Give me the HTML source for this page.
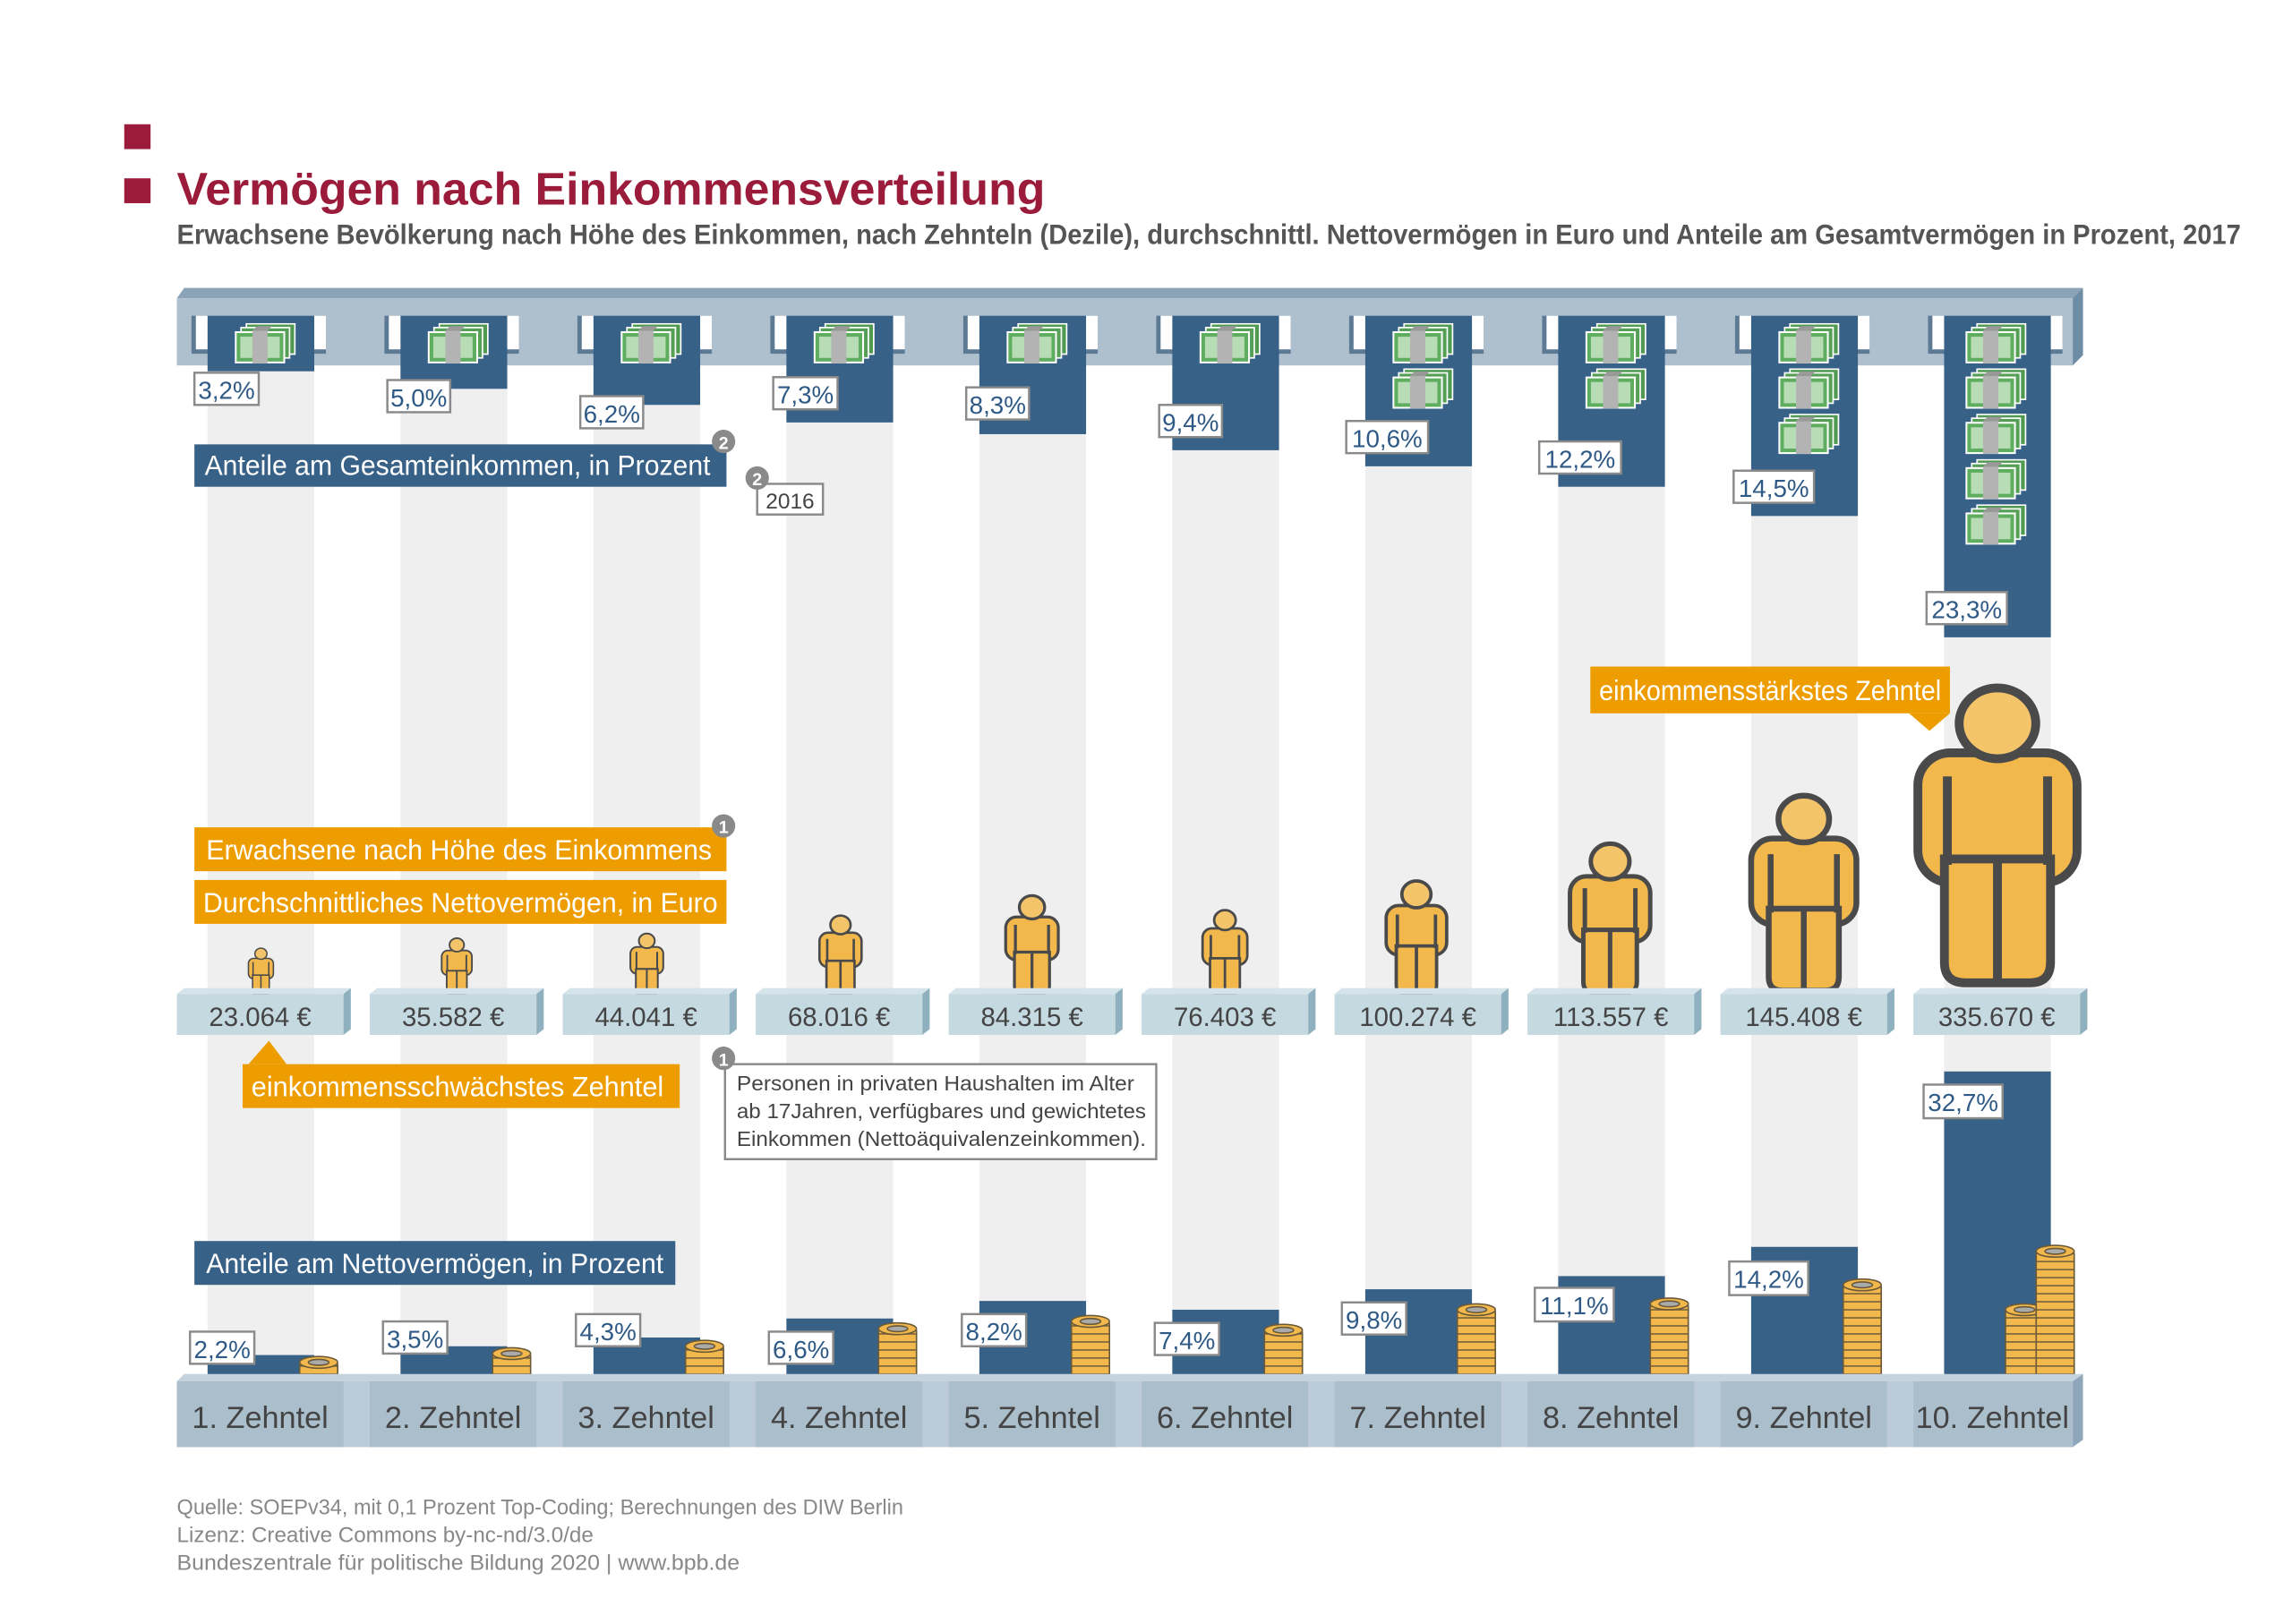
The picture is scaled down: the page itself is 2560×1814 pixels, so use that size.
<!DOCTYPE html>
<html><head><meta charset="utf-8"><style>
html,body{margin:0;padding:0;background:#fff;}
svg{display:block;}
text{font-family:"Liberation Sans",sans-serif;}
</style></head><body>
<svg width="2560" height="1814" viewBox="0 0 1568 1111" preserveAspectRatio="none" xmlns="http://www.w3.org/2000/svg">
<defs>
<symbol id="money" viewBox="0 0 41 27">
<rect x="8" y="0.5" width="32" height="20" fill="#4f9a50" stroke="#fff" stroke-width="1"/>
<rect x="4.5" y="3" width="32" height="20" fill="#55a056" stroke="#fff" stroke-width="1"/>
<rect x="1" y="6" width="32" height="20" fill="#5fae60" stroke="#fff" stroke-width="1.2"/>
<rect x="4" y="9" width="26" height="14" fill="#b8dcb5"/>
<rect x="12" y="5" width="10" height="21.5" fill="#b3b3b3"/>
<polygon points="12,5 15,2 25,2 22,5" fill="#999"/>
</symbol>
<pattern id="coins" patternUnits="userSpaceOnUse" width="30" height="5.5">
<rect width="30" height="5.5" fill="#f2b84b"/>
<rect y="4.6" width="30" height="0.9" fill="#6b5a3a"/>
</pattern>
<symbol id="person" viewBox="-3 -3 60 106" overflow="visible">
<rect x="0" y="22" width="54" height="44" rx="11" fill="#f2b84b" stroke="#4a4a4a" stroke-width="3"/>
<path d="M9,58 L9,93 Q9,100 16,100 L38,100 Q45,100 45,93 L45,58 Z" fill="#f2b84b" stroke="#4a4a4a" stroke-width="3"/>
<line x1="10" y1="30" x2="10" y2="60" stroke="#4a4a4a" stroke-width="3"/>
<line x1="44" y1="30" x2="44" y2="60" stroke="#4a4a4a" stroke-width="3"/>
<line x1="10" y1="58" x2="44" y2="58" stroke="#4a4a4a" stroke-width="2.5"/>
<line x1="27" y1="58" x2="27" y2="100" stroke="#4a4a4a" stroke-width="3"/>
<ellipse cx="27" cy="12" rx="13" ry="12" fill="#f4c46a" stroke="#4a4a4a" stroke-width="3"/>
</symbol>
</defs>

<rect x="85" y="85" width="18" height="17" fill="#9b1b3a"/>
<rect x="85" y="122" width="18" height="17" fill="#9b1b3a"/>
<text x="121" y="140" font-size="31" font-weight="bold" fill="#9b1b3a" textLength="594" lengthAdjust="spacingAndGlyphs">Vermögen nach Einkommensverteilung</text>
<text x="121" y="167" font-size="19" font-weight="bold" fill="#555" textLength="1412" lengthAdjust="spacingAndGlyphs">Erwachsene Bevölkerung nach Höhe des Einkommen, nach Zehnteln (Dezile), durchschnittl. Nettovermögen in Euro und Anteile am Gesamtvermögen in Prozent, 2017</text>

<g fill="#efefef">
<rect x="142" y="245" width="73" height="700"/><rect x="274" y="245" width="73" height="700"/><rect x="406" y="245" width="73" height="700"/><rect x="538" y="245" width="73" height="700"/><rect x="670" y="245" width="73" height="700"/><rect x="802" y="245" width="73" height="700"/><rect x="934" y="245" width="73" height="700"/><rect x="1066" y="245" width="73" height="700"/><rect x="1198" y="245" width="73" height="700"/><rect x="1330" y="245" width="73" height="700"/>
</g>

<polygon points="121,204 126,197 1425,197 1418,204" fill="#8aa3b8"/>
<rect x="121" y="204" width="1297" height="46" fill="#aebfcd"/>
<polygon points="1418,204 1425,197 1425,243 1418,250" fill="#6f8ca5"/>
<g>
<rect x="131" y="216" width="92" height="26" fill="#5d7a95"/><rect x="134" y="216" width="89" height="23" fill="#fff"/>
<rect x="263" y="216" width="92" height="26" fill="#5d7a95"/><rect x="266" y="216" width="89" height="23" fill="#fff"/>
<rect x="395" y="216" width="92" height="26" fill="#5d7a95"/><rect x="398" y="216" width="89" height="23" fill="#fff"/>
<rect x="527" y="216" width="92" height="26" fill="#5d7a95"/><rect x="530" y="216" width="89" height="23" fill="#fff"/>
<rect x="659" y="216" width="92" height="26" fill="#5d7a95"/><rect x="662" y="216" width="89" height="23" fill="#fff"/>
<rect x="791" y="216" width="92" height="26" fill="#5d7a95"/><rect x="794" y="216" width="89" height="23" fill="#fff"/>
<rect x="923" y="216" width="92" height="26" fill="#5d7a95"/><rect x="926" y="216" width="89" height="23" fill="#fff"/>
<rect x="1055" y="216" width="92" height="26" fill="#5d7a95"/><rect x="1058" y="216" width="89" height="23" fill="#fff"/>
<rect x="1187" y="216" width="92" height="26" fill="#5d7a95"/><rect x="1190" y="216" width="89" height="23" fill="#fff"/>
<rect x="1319" y="216" width="92" height="26" fill="#5d7a95"/><rect x="1322" y="216" width="89" height="23" fill="#fff"/>
</g>

<g fill="#376187">
<rect x="142" y="216" width="73" height="38"/>
<rect x="274" y="216" width="73" height="50"/>
<rect x="406" y="216" width="73" height="61"/>
<rect x="538" y="216" width="73" height="73"/>
<rect x="670" y="216" width="73" height="81"/>
<rect x="802" y="216" width="73" height="92"/>
<rect x="934" y="216" width="73" height="103"/>
<rect x="1066" y="216" width="73" height="117"/>
<rect x="1198" y="216" width="73" height="137"/>
<rect x="1330" y="216" width="73" height="220"/>
</g>
<use href="#money" x="160" y="221" width="43" height="28"/>
<use href="#money" x="292" y="221" width="43" height="28"/>
<use href="#money" x="424" y="221" width="43" height="28"/>
<use href="#money" x="556" y="221" width="43" height="28"/>
<use href="#money" x="688" y="221" width="43" height="28"/>
<use href="#money" x="820" y="221" width="43" height="28"/>
<use href="#money" x="952" y="221" width="43" height="28"/>
<use href="#money" x="952" y="252" width="43" height="28"/>
<use href="#money" x="1084" y="221" width="43" height="28"/>
<use href="#money" x="1084" y="252" width="43" height="28"/>
<use href="#money" x="1216" y="221" width="43" height="28"/>
<use href="#money" x="1216" y="252" width="43" height="28"/>
<use href="#money" x="1216" y="283" width="43" height="28"/>
<use href="#money" x="1344" y="221" width="43" height="28"/>
<use href="#money" x="1344" y="252" width="43" height="28"/>
<use href="#money" x="1344" y="283" width="43" height="28"/>
<use href="#money" x="1344" y="314" width="43" height="28"/>
<use href="#money" x="1344" y="345" width="43" height="28"/>

<g fill="#fff" stroke="#8a8a8a" stroke-width="1.5">
<rect x="133" y="255" width="44" height="22"/>
<rect x="265" y="260" width="43" height="22"/>
<rect x="397" y="271" width="43" height="22"/>
<rect x="529" y="258" width="44" height="22"/>
<rect x="661" y="265" width="43" height="22"/>
<rect x="793" y="277" width="43" height="22"/>
<rect x="921" y="288" width="56" height="22"/>
<rect x="1053" y="302" width="56" height="22"/>
<rect x="1186" y="322" width="55" height="22"/>
<rect x="1318" y="405" width="55" height="22"/>
</g>
<g font-size="17" fill="#2f5a86" text-anchor="middle">
<text x="155" y="273">3,2%</text>
<text x="286.5" y="278">5,0%</text>
<text x="418.5" y="289">6,2%</text>
<text x="551" y="276">7,3%</text>
<text x="682.5" y="283">8,3%</text>
<text x="814.5" y="295">9,4%</text>
<text x="949" y="306">10,6%</text>
<text x="1081" y="320">12,2%</text>
<text x="1213.5" y="340">14,5%</text>
<text x="1345.5" y="423">23,3%</text>
</g>

<rect x="133" y="304" width="364" height="29" fill="#376187"/>
<text x="140" y="325" font-size="19" fill="#fff" textLength="346" lengthAdjust="spacingAndGlyphs">Anteile am Gesamteinkommen, in Prozent</text>
<circle cx="495" cy="302" r="8" fill="#8a8a8a"/><text x="495" y="307" font-size="12" font-weight="bold" fill="#fff" text-anchor="middle">2</text>
<rect x="518" y="331" width="45" height="21" fill="#fff" stroke="#8a8a8a" stroke-width="1.5"/>
<text x="540.5" y="348" font-size="15" fill="#444" text-anchor="middle">2016</text>
<circle cx="518" cy="327" r="8" fill="#8a8a8a"/><text x="518" y="332" font-size="12" font-weight="bold" fill="#fff" text-anchor="middle">2</text>

<rect x="1088" y="456" width="246" height="32" fill="#ee9d00"/>
<polygon points="1306,488 1334,488 1320,500" fill="#ee9d00"/>
<text x="1094" y="479" font-size="19" fill="#fff" textLength="234" lengthAdjust="spacingAndGlyphs">einkommensstärkstes Zehntel</text>

<rect x="133" y="566" width="364" height="30" fill="#ee9d00"/>
<text x="141" y="588" font-size="19" fill="#fff" textLength="346" lengthAdjust="spacingAndGlyphs">Erwachsene nach Höhe des Einkommens</text>
<circle cx="495" cy="565" r="8" fill="#8a8a8a"/><text x="495" y="570" font-size="12" font-weight="bold" fill="#fff" text-anchor="middle">1</text>
<rect x="133" y="602" width="364" height="30" fill="#ee9d00"/>
<text x="139" y="624" font-size="19" fill="#fff" textLength="352" lengthAdjust="spacingAndGlyphs">Durchschnittliches Nettovermögen, in Euro</text>

<use href="#person" x="169" y="647" width="19" height="35"/>
<use href="#person" x="301" y="640" width="23" height="42"/>
<use href="#person" x="430" y="637" width="25" height="45"/>
<use href="#person" x="559" y="624" width="32" height="58"/>
<use href="#person" x="686" y="610" width="40" height="72"/>
<use href="#person" x="821" y="620" width="34" height="62"/>
<use href="#person" x="946" y="600" width="46" height="82"/>
<use href="#person" x="1071" y="574" width="61" height="108"/>
<use href="#person" x="1194" y="540" width="80" height="142"/>
<use href="#person" x="1306" y="461" width="121" height="221"/>

<g>
<polygon points="121,680 126,676 240,676 235,680" fill="#d5e4ea"/><rect x="121" y="680" width="114" height="28" fill="#c5d9e1"/><polygon points="235,680 240,676 240,704 235,708" fill="#8fb0bf"/>
<polygon points="253,680 258,676 372,676 367,680" fill="#d5e4ea"/><rect x="253" y="680" width="114" height="28" fill="#c5d9e1"/><polygon points="367,680 372,676 372,704 367,708" fill="#8fb0bf"/>
<polygon points="385,680 390,676 504,676 499,680" fill="#d5e4ea"/><rect x="385" y="680" width="114" height="28" fill="#c5d9e1"/><polygon points="499,680 504,676 504,704 499,708" fill="#8fb0bf"/>
<polygon points="517,680 522,676 636,676 631,680" fill="#d5e4ea"/><rect x="517" y="680" width="114" height="28" fill="#c5d9e1"/><polygon points="631,680 636,676 636,704 631,708" fill="#8fb0bf"/>
<polygon points="649,680 654,676 768,676 763,680" fill="#d5e4ea"/><rect x="649" y="680" width="114" height="28" fill="#c5d9e1"/><polygon points="763,680 768,676 768,704 763,708" fill="#8fb0bf"/>
<polygon points="781,680 786,676 900,676 895,680" fill="#d5e4ea"/><rect x="781" y="680" width="114" height="28" fill="#c5d9e1"/><polygon points="895,680 900,676 900,704 895,708" fill="#8fb0bf"/>
<polygon points="913,680 918,676 1032,676 1027,680" fill="#d5e4ea"/><rect x="913" y="680" width="114" height="28" fill="#c5d9e1"/><polygon points="1027,680 1032,676 1032,704 1027,708" fill="#8fb0bf"/>
<polygon points="1045,680 1050,676 1164,676 1159,680" fill="#d5e4ea"/><rect x="1045" y="680" width="114" height="28" fill="#c5d9e1"/><polygon points="1159,680 1164,676 1164,704 1159,708" fill="#8fb0bf"/>
<polygon points="1177,680 1182,676 1296,676 1291,680" fill="#d5e4ea"/><rect x="1177" y="680" width="114" height="28" fill="#c5d9e1"/><polygon points="1291,680 1296,676 1296,704 1291,708" fill="#8fb0bf"/>
<polygon points="1309,680 1314,676 1428,676 1423,680" fill="#d5e4ea"/><rect x="1309" y="680" width="114" height="28" fill="#c5d9e1"/><polygon points="1423,680 1428,676 1428,704 1423,708" fill="#8fb0bf"/>
</g>
<g font-size="18" fill="#444" text-anchor="middle">
<text x="178" y="702">23.064 €</text><text x="310" y="702">35.582 €</text><text x="442" y="702">44.041 €</text><text x="574" y="702">68.016 €</text><text x="706" y="702">84.315 €</text><text x="838" y="702">76.403 €</text><text x="970" y="702">100.274 €</text><text x="1102" y="702">113.557 €</text><text x="1234" y="702">145.408 €</text><text x="1366" y="702">335.670 €</text>
</g>

<rect x="166" y="728" width="299" height="30" fill="#ee9d00"/>
<polygon points="170,728 184,712 196,728" fill="#ee9d00"/>
<text x="172" y="750" font-size="19" fill="#fff" textLength="282" lengthAdjust="spacingAndGlyphs">einkommensschwächstes Zehntel</text>

<rect x="496" y="728" width="295" height="65" fill="#fff" stroke="#8a8a8a" stroke-width="1.5"/>
<g font-size="14" fill="#444">
<text x="504" y="746" textLength="272" lengthAdjust="spacingAndGlyphs">Personen in privaten Haushalten im Alter</text>
<text x="504" y="765" textLength="280" lengthAdjust="spacingAndGlyphs">ab 17Jahren, verfügbares und gewichtetes</text>
<text x="504" y="784" textLength="280" lengthAdjust="spacingAndGlyphs">Einkommen (Nettoäquivalenzeinkommen).</text>
</g>
<circle cx="495" cy="724" r="8" fill="#8a8a8a"/><text x="495" y="729" font-size="12" font-weight="bold" fill="#fff" text-anchor="middle">1</text>

<rect x="133" y="849" width="329" height="30" fill="#376187"/>
<text x="141" y="871" font-size="19" fill="#fff" textLength="313" lengthAdjust="spacingAndGlyphs">Anteile am Nettovermögen, in Prozent</text>

<g fill="#376187">
<rect x="142" y="927" width="73" height="18"/>
<rect x="274" y="921" width="73" height="24"/>
<rect x="406" y="915" width="73" height="30"/>
<rect x="538" y="902" width="73" height="43"/>
<rect x="670" y="890" width="73" height="55"/>
<rect x="802" y="896" width="73" height="49"/>
<rect x="934" y="882" width="73" height="63"/>
<rect x="1066" y="873" width="73" height="72"/>
<rect x="1198" y="853" width="73" height="92"/>
<rect x="1330" y="733" width="73" height="212"/>
</g>
<g stroke="#6b5a3a" stroke-width="1">
<rect x="205" y="931" width="26" height="12" rx="3" fill="url(#coins)"/><ellipse cx="218" cy="932" rx="13" ry="4" fill="#f2b84b"/><ellipse cx="218" cy="932" rx="7" ry="2" fill="#aaa"/>
<rect x="337" y="925" width="26" height="18" rx="3" fill="url(#coins)"/><ellipse cx="350" cy="926" rx="13" ry="4" fill="#f2b84b"/><ellipse cx="350" cy="926" rx="7" ry="2" fill="#aaa"/>
<rect x="469" y="920" width="26" height="23" rx="3" fill="url(#coins)"/><ellipse cx="482" cy="921" rx="13" ry="4" fill="#f2b84b"/><ellipse cx="482" cy="921" rx="7" ry="2" fill="#aaa"/>
<rect x="601" y="908" width="26" height="35" rx="3" fill="url(#coins)"/><ellipse cx="614" cy="909" rx="13" ry="4" fill="#f2b84b"/><ellipse cx="614" cy="909" rx="7" ry="2" fill="#aaa"/>
<rect x="733" y="903" width="26" height="40" rx="3" fill="url(#coins)"/><ellipse cx="746" cy="904" rx="13" ry="4" fill="#f2b84b"/><ellipse cx="746" cy="904" rx="7" ry="2" fill="#aaa"/>
<rect x="865" y="909" width="26" height="34" rx="3" fill="url(#coins)"/><ellipse cx="878" cy="910" rx="13" ry="4" fill="#f2b84b"/><ellipse cx="878" cy="910" rx="7" ry="2" fill="#aaa"/>
<rect x="997" y="895" width="26" height="48" rx="3" fill="url(#coins)"/><ellipse cx="1010" cy="896" rx="13" ry="4" fill="#f2b84b"/><ellipse cx="1010" cy="896" rx="7" ry="2" fill="#aaa"/>
<rect x="1129" y="891" width="26" height="52" rx="3" fill="url(#coins)"/><ellipse cx="1142" cy="892" rx="13" ry="4" fill="#f2b84b"/><ellipse cx="1142" cy="892" rx="7" ry="2" fill="#aaa"/>
<rect x="1261" y="878" width="26" height="65" rx="3" fill="url(#coins)"/><ellipse cx="1274" cy="879" rx="13" ry="4" fill="#f2b84b"/><ellipse cx="1274" cy="879" rx="7" ry="2" fill="#aaa"/>
<rect x="1372" y="895" width="26" height="48" rx="3" fill="url(#coins)"/><ellipse cx="1385" cy="896" rx="13" ry="4" fill="#f2b84b"/><ellipse cx="1385" cy="896" rx="7" ry="2" fill="#aaa"/>
<rect x="1393" y="855" width="26" height="88" rx="3" fill="url(#coins)"/><ellipse cx="1406" cy="856" rx="13" ry="4" fill="#f2b84b"/><ellipse cx="1406" cy="856" rx="7" ry="2" fill="#aaa"/>
</g>

<g fill="#fff" stroke="#8a8a8a" stroke-width="1.5">
<rect x="130" y="911" width="44" height="22"/>
<rect x="262" y="904" width="44" height="22"/>
<rect x="394" y="899" width="44" height="22"/>
<rect x="526" y="911" width="44" height="22"/>
<rect x="658" y="899" width="44" height="22"/>
<rect x="790" y="905" width="44" height="22"/>
<rect x="918" y="891" width="44" height="22"/>
<rect x="1050" y="881" width="54" height="23"/>
<rect x="1183" y="863" width="54" height="23"/>
<rect x="1316" y="742" width="54" height="23"/>
</g>
<g font-size="17" fill="#2f5a86" text-anchor="middle">
<text x="152" y="929">2,2%</text>
<text x="284" y="922">3,5%</text>
<text x="416" y="917">4,3%</text>
<text x="548" y="929">6,6%</text>
<text x="680" y="917">8,2%</text>
<text x="812" y="923">7,4%</text>
<text x="940" y="909">9,8%</text>
<text x="1077" y="899">11,1%</text>
<text x="1210" y="881">14,2%</text>
<text x="1343" y="760">32,7%</text>
</g>

<polygon points="121,945 126,940 1425,940 1418,945" fill="#c5d3de"/>
<rect x="121" y="945" width="1297" height="45" fill="#bccbd8"/>
<polygon points="1418,945 1425,940 1425,985 1418,990" fill="#8fa6ba"/>
<g fill="#abbecc">
<rect x="121" y="945" width="114" height="45"/><rect x="253" y="945" width="114" height="45"/><rect x="385" y="945" width="114" height="45"/><rect x="517" y="945" width="114" height="45"/><rect x="649" y="945" width="114" height="45"/><rect x="781" y="945" width="114" height="45"/><rect x="913" y="945" width="114" height="45"/><rect x="1045" y="945" width="114" height="45"/><rect x="1177" y="945" width="114" height="45"/><rect x="1309" y="945" width="109" height="45"/>
</g>
<g font-size="21" fill="#444" text-anchor="middle">
<text x="178" y="977">1. Zehntel</text><text x="310" y="977">2. Zehntel</text><text x="442" y="977">3. Zehntel</text><text x="574" y="977">4. Zehntel</text><text x="706" y="977">5. Zehntel</text><text x="838" y="977">6. Zehntel</text><text x="970" y="977">7. Zehntel</text><text x="1102" y="977">8. Zehntel</text><text x="1234" y="977">9. Zehntel</text><text x="1363" y="977">10. Zehntel</text>
</g>

<g font-size="14.5" fill="#888">
<text x="121" y="1036" textLength="497" lengthAdjust="spacingAndGlyphs">Quelle: SOEPv34, mit 0,1 Prozent Top-Coding; Berechnungen des DIW Berlin</text>
<text x="121" y="1055" textLength="285" lengthAdjust="spacingAndGlyphs">Lizenz: Creative Commons by-nc-nd/3.0/de</text>
<text x="121" y="1074" textLength="385" lengthAdjust="spacingAndGlyphs">Bundeszentrale für politische Bildung 2020  |  www.bpb.de</text>
</g>
</svg>
</body></html>
